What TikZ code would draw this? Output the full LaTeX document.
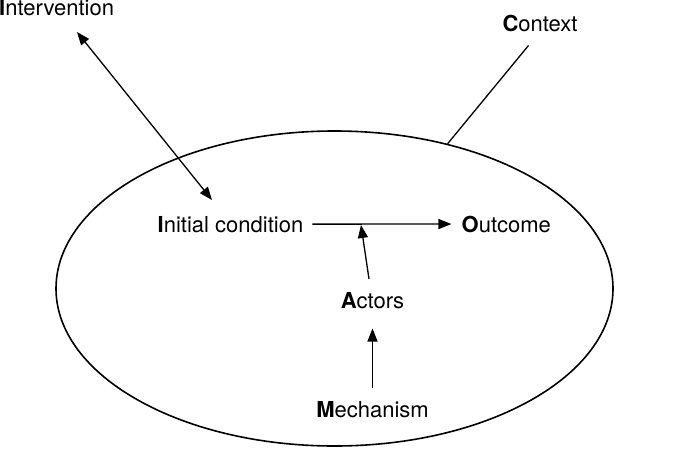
\documentclass[tikz,border=0pt]{standalone}
\usepackage{fontspec}
\setmainfont{TeX Gyre Heros}
\usepackage{tikz}
\usetikzlibrary{positioning,arrows.meta,shapes.geometric}

\begin{document}
\begin{tikzpicture}[x=1pt, y=-1pt,
    labelnode/.style={inner sep=0pt, font=\fontsize{22}{26}\selectfont},
    flowarrow/.style={line width=1.3pt, -{Triangle[length=13pt, width=10pt]}},
    twoarrow/.style={line width=1.3pt, {Triangle[length=13pt, width=10pt]}-{Triangle[length=13pt, width=10pt]}}]

        \useasboundingbox (0,0) rectangle (677,463);

        \node[draw, ellipse, line width=1.6pt, minimum width=557pt, minimum height=315pt] (ctxarea) at (334.5,288.5) {};

        \node[labelnode, anchor=base west] (intervention) at (-1,16) {\textbf{I}ntervention};
        \node[labelnode, anchor=base] (context) at (540,31) {\textbf{C}ontext};
        \node[labelnode, anchor=base] (initial) at (230.5,232) {\textbf{I}nitial condition};
        \node[labelnode] (outcome) [base right=158pt of initial] {\textbf{O}utcome};
        \node[labelnode, anchor=base] (actors) at (372.5,308) {\textbf{A}ctors};
        \node[labelnode] (mechanism) [below=93pt of actors] {\textbf{M}echanism};

        \coordinate (intvstart) at (77,32);
        \coordinate (intvend) at (212,200);
        \coordinate (actfoot) at (369,279);
        \coordinate (join) at (361,225);

        \draw[twoarrow] (intvstart) -- (intvend);
        \draw[line width=1.3pt, shorten <=18pt] (context.south) -- (ctxarea.52);
        \draw[flowarrow, shorten <=9pt, shorten >=10pt] (initial.east) -- (outcome.west);
        \draw[flowarrow] (actfoot) -- (join);
        \draw[flowarrow, shorten <=14pt, shorten >=20pt] (mechanism.north) -- (actors.south);

        \end{tikzpicture}
\end{document}
